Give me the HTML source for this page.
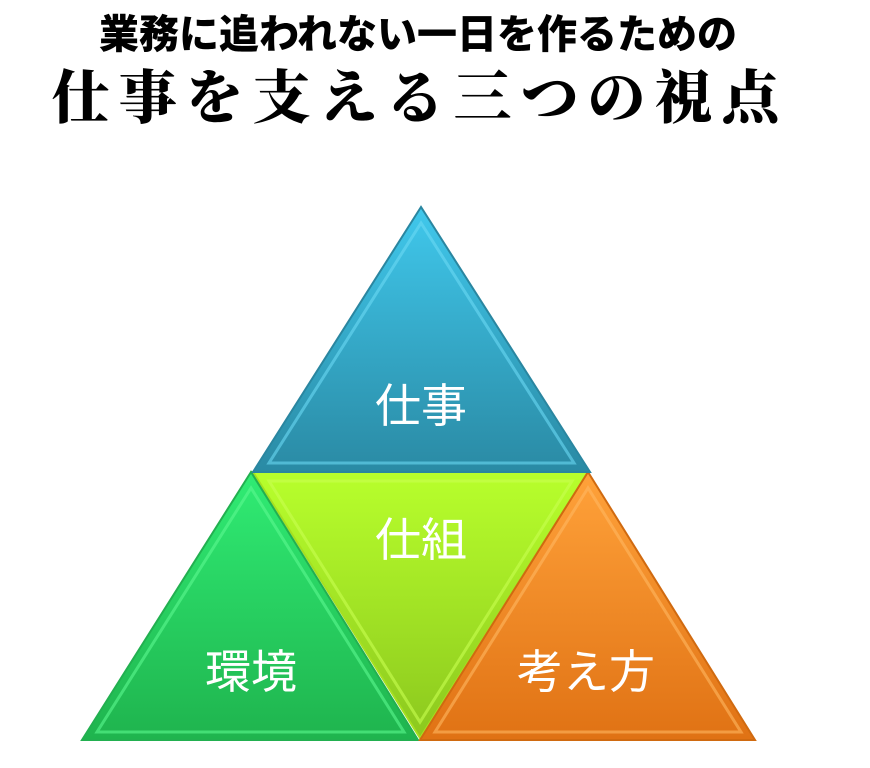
<!DOCTYPE html>
<html><head><meta charset="utf-8"><style>
body{margin:0;width:870px;height:768px;background:#fff;overflow:hidden}
svg{display:block}
</style></head><body>
<svg width="870" height="768" viewBox="0 0 870 768" xmlns="http://www.w3.org/2000/svg">
<defs>
<linearGradient id="gb" x1="0" y1="0" x2="0" y2="1"><stop offset="0" stop-color="#40c8ec"/><stop offset="1" stop-color="#2a8aa4"/></linearGradient>
<linearGradient id="gl" x1="0" y1="0" x2="0" y2="1"><stop offset="0" stop-color="#b8ff2c"/><stop offset="1" stop-color="#8cc81e"/></linearGradient>
<linearGradient id="gg" x1="0" y1="0" x2="0" y2="1"><stop offset="0" stop-color="#30ec74"/><stop offset="1" stop-color="#1fb44e"/></linearGradient>
<linearGradient id="go" x1="0" y1="0" x2="0" y2="1"><stop offset="0" stop-color="#ffa23a"/><stop offset="1" stop-color="#e07214"/></linearGradient>
</defs>
<text x="418" y="48" text-anchor="middle" font-family="'Noto Sans CJK JP',sans-serif" font-weight="900" font-size="40" fill="#000">業務に追われない一日を作るための</text>
<text x="420" y="118" text-anchor="middle" font-family="'Noto Serif CJK SC','Noto Sans CJK JP',serif" font-weight="900" font-size="58" letter-spacing="9" fill="#000">仕事を支える三つの視点</text>
<polygon points="253,472 588,472 420,738" fill="url(#gl)" stroke="#a6e020" stroke-width="2"/>
<polygon points="269,481 572,481 420,722" fill="none" stroke="#c8ff50" stroke-width="3" opacity="0.6"/>
<polygon points="251,472 82,740 418,740" fill="url(#gg)" stroke="#22b050" stroke-width="2"/>
<polygon points="251,488 97,732 404,732" fill="none" stroke="#5cf890" stroke-width="3" opacity="0.6"/>
<polygon points="588,472 420,740 755,740" fill="url(#go)" stroke="#d06a10" stroke-width="2"/>
<polygon points="588,488 435,732 741,732" fill="none" stroke="#ffb860" stroke-width="3" opacity="0.6"/>
<polygon points="421,207 253,472 590,472" fill="url(#gb)" stroke="#2a86a0" stroke-width="2"/>
<polygon points="421,223 269,463 574,463" fill="none" stroke="#6ad8f4" stroke-width="3" opacity="0.6"/>
<g font-family="'Noto Sans CJK JP',sans-serif" font-size="46" fill="#fff" text-anchor="middle">
<text x="421" y="422">仕事</text>
<text x="421" y="556">仕組</text>
<text x="251" y="688">環境</text>
<text x="586" y="688">考え方</text>
</g>
</svg>
</body></html>
